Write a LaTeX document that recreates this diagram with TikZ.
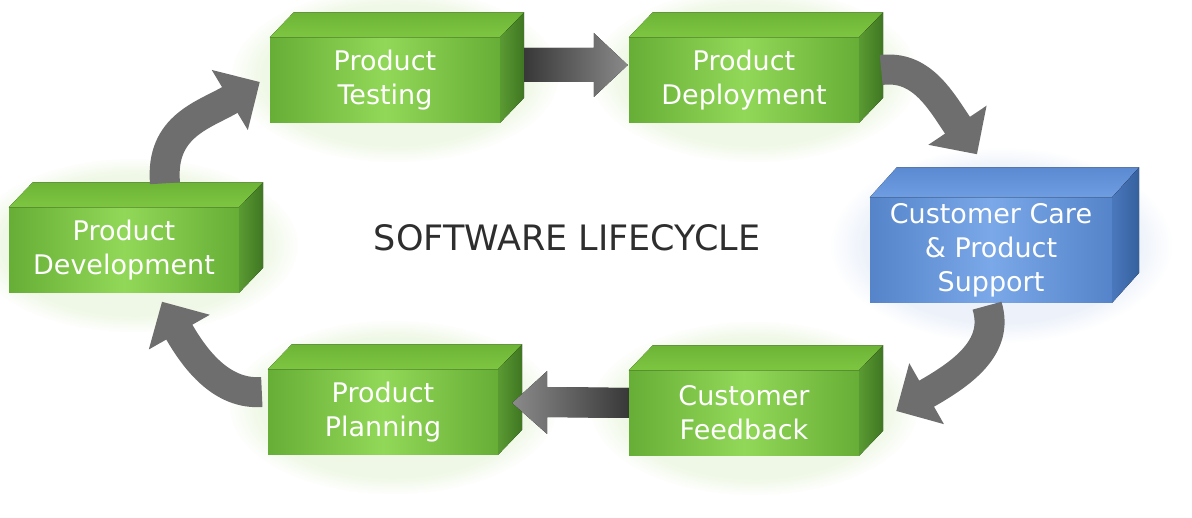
\documentclass[tikz,border=0pt]{standalone}
\usepackage{fontspec}
\setmainfont{DejaVu Sans}
\usetikzlibrary{arrows.meta,calc,fadings,backgrounds}

\definecolor{grnmid}{HTML}{92D858}
\definecolor{grnedge}{HTML}{66AE36}
\definecolor{grntop}{HTML}{7DC641}
\definecolor{grntopback}{HTML}{6DB436}
\definecolor{grnside}{HTML}{5A9A32}
\definecolor{grnsidedark}{HTML}{3F7622}
\definecolor{grnglow}{HTML}{EFF8E6}
\definecolor{blumid}{HTML}{7AA8E8}
\definecolor{bluedge}{HTML}{5584CA}
\definecolor{blutop}{HTML}{6E9DE2}
\definecolor{blutopback}{HTML}{5C8AD2}
\definecolor{bluside}{HTML}{4A78BC}
\definecolor{blusidedark}{HTML}{35609E}
\definecolor{bluglow}{HTML}{EDF2FA}
\definecolor{arrowgray}{HTML}{6E6E6E}
\definecolor{arrowdark}{HTML}{383838}
\definecolor{arrowlight}{HTML}{8A8A8A}
\definecolor{titlegray}{HTML}{2E2E2E}

\newcommand{\boxfont}{\fontsize{27}{34}\selectfont}

\tikzset{
  stage/.style={minimum width=230, minimum height=85, inner sep=0pt,
    align=center, text=white, font=\boxfont,
    left color=grnedge, right color=grnedge, middle color=grnmid},
  carestage/.style={stage, minimum width=242, minimum height=105,
    left color=bluedge, right color=bluedge, middle color=blumid},
  grntopface/.style={top color=grntopback, bottom color=grntop},
  grnsideface/.style={left color=grnside, right color=grnsidedark},
  blutopface/.style={top color=blutopback, bottom color=blutop},
  blusideface/.style={left color=bluside, right color=blusidedark},
  glow/.style={fill=grnglow, path fading=circle with fuzzy edge 20 percent},
  bendarrow/.style={draw=arrowgray, line width=30,
    -{Triangle[width=68,length=35]}},
}

\begin{document}
\begin{tikzpicture}[x=1pt,y=-1pt]
  \useasboundingbox (0,0) rectangle (1192,518);

  % front faces
  \node[stage] (test) at (385,80) {Product\\Testing};
  \node[stage] (deploy) at (744,80) {Product\\Deployment};
  \node[carestage] (care) at (991,250) {Customer Care\\\& Product\\Support};
  \node[stage] (feedback) at (744,413) {Customer\\Feedback};
  \node[stage] (planning) at (383,412) {Product\\Planning};
  \node[stage] (dev) at (124,250) {Product\\Development};

  \node[text=titlegray, font=\fontsize{35}{40}\selectfont] (title) at (567,238) {SOFTWARE LIFECYCLE};

  % soft glow behind the boxes
  \begin{scope}[on background layer]
    \fill[glow] ($(test.north west)+(-40,-50)$) rectangle ($(test.south east)+(60,40)$);
    \fill[glow] ($(deploy.north west)+(-40,-50)$) rectangle ($(deploy.south east)+(60,40)$);
    \fill[glow, fill=bluglow] ($(care.north west)+(-40,-50)$) rectangle ($(care.south east)+(60,40)$);
    \fill[glow] ($(feedback.north west)+(-40,-50)$) rectangle ($(feedback.south east)+(60,40)$);
    \fill[glow] ($(planning.north west)+(-40,-50)$) rectangle ($(planning.south east)+(60,40)$);
    \fill[glow] ($(dev.north west)+(-40,-50)$) rectangle ($(dev.south east)+(60,40)$);
  \end{scope}

  % top and side faces
  \fill[grntopface] (test.north west) -- ++(24,-25) -- ($(test.north east)+(24,-25)$) -- (test.north east) -- cycle;
  \fill[grnsideface] (test.north east) -- ++(24,-25) -- ($(test.south east)+(24,-25)$) -- (test.south east) -- cycle;
  \fill[grntopface] (deploy.north west) -- ++(24,-25) -- ($(deploy.north east)+(24,-25)$) -- (deploy.north east) -- cycle;
  \fill[grnsideface] (deploy.north east) -- ++(24,-25) -- ($(deploy.south east)+(24,-25)$) -- (deploy.south east) -- cycle;
  \fill[blutopface] (care.north west) -- ++(27,-30) -- ($(care.north east)+(27,-30)$) -- (care.north east) -- cycle;
  \fill[blusideface] (care.north east) -- ++(27,-30) -- ($(care.south east)+(27,-30)$) -- (care.south east) -- cycle;
  \fill[grntopface] (feedback.north west) -- ++(24,-25) -- ($(feedback.north east)+(24,-25)$) -- (feedback.north east) -- cycle;
  \fill[grnsideface] (feedback.north east) -- ++(24,-25) -- ($(feedback.south east)+(24,-25)$) -- (feedback.south east) -- cycle;
  \fill[grntopface] (planning.north west) -- ++(24,-25) -- ($(planning.north east)+(24,-25)$) -- (planning.north east) -- cycle;
  \fill[grnsideface] (planning.north east) -- ++(24,-25) -- ($(planning.south east)+(24,-25)$) -- (planning.south east) -- cycle;
  \fill[grntopface] (dev.north west) -- ++(24,-25) -- ($(dev.north east)+(24,-25)$) -- (dev.north east) -- cycle;
  \fill[grnsideface] (dev.north east) -- ++(24,-25) -- ($(dev.south east)+(24,-25)$) -- (dev.south east) -- cycle;

  % straight arrows
  \fill[left color=arrowdark, right color=arrowlight]
    ($(test.east)+(24,-32)$) -- ($(deploy.west)+(-35,-32)$) -- ($(deploy.west)+(-35,-47)$)
    -- ($(deploy.west)+(-1,-15)$) -- ($(deploy.west)+(-35,17)$) -- ($(deploy.west)+(-35,2)$)
    -- ($(test.east)+(24,2)$) -- cycle;
  \fill[left color=arrowlight, right color=arrowdark]
    ($(feedback.west)+(0,-25)$) -- ($(planning.east)+(49,-25)$) -- ($(planning.east)+(49,-41)$)
    -- ($(planning.east)+(14,-9)$) -- ($(planning.east)+(49,22)$) -- ($(planning.east)+(49,5)$)
    -- ($(feedback.west)+(0,5)$) -- cycle;

  % bent arrows
  \draw[bendarrow] ($(dev.north)+(41,-24)$) .. controls +(-5,-58) and +(-55,33) .. ($(test.west)+(-10,2)$);
  \draw[bendarrow] ($(deploy.east)+(22,-10)$) .. controls +(40,-5) and +(-37,-55) .. ($(care.north)+(-14,-43)$);
  \draw[bendarrow] ($(care.south)+(-4,3)$) .. controls +(13,42) and +(65,-37) .. ($(feedback.east)+(37,-2)$);
  \draw[bendarrow] ($(planning.west)+(-6,-20)$) .. controls +(-40,3) and +(33,58) .. ($(dev.south)+(38,9)$);
\end{tikzpicture}
\end{document}
